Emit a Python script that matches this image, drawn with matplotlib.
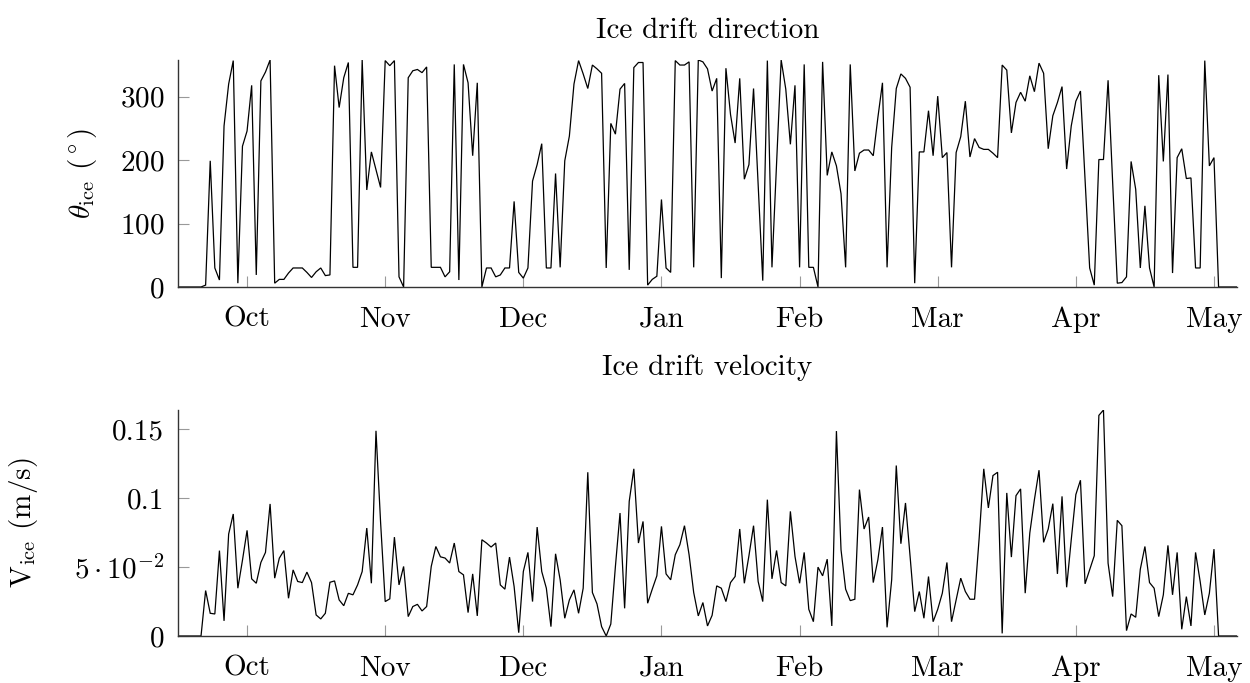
import numpy as np
import matplotlib
matplotlib.use("Agg")
import matplotlib.pyplot as plt

plt.rcParams["font.family"] = "cmr10"
plt.rcParams["mathtext.fontset"] = "cm"
plt.rcParams["axes.unicode_minus"] = False
plt.rcParams["axes.formatter.use_mathtext"] = True

# daily ice drift direction (deg)
theta_ice = [
    0, 0, 0, 0, 0, 0,
    3, 199, 30, 11, 254, 320, 357, 6, 222, 246,
    318, 19, 325, 339, 358, 6, 12, 12, 22, 30,
    30, 30, 23, 15, 24, 30, 18, 19, 349, 283,
    330, 354, 31, 31, 358, 153, 213, 185, 157, 357,
    349, 357, 16, 0, 330, 341, 343, 338, 347, 31,
    31, 31, 16, 24, 351, 11, 351, 322, 207, 322,
    0, 30, 30, 16, 19, 30, 30, 135, 23, 14,
    30, 167, 193, 226, 30, 30, 179, 31, 199, 238,
    320, 357, 336, 313, 350, 344, 337, 30, 258, 241,
    312, 321, 27, 346, 354, 354, 3, 12, 17, 138,
    30, 23, 357, 350, 350, 355, 31, 358, 355, 344,
    309, 329, 14, 345, 272, 227, 329, 170, 193, 313,
    161, 10, 357, 31, 195, 358, 312, 225, 318, 31,
    351, 31, 31, 0, 355, 176, 213, 191, 147, 31,
    351, 183, 211, 216, 216, 207, 267, 322, 31, 220,
    313, 336, 329, 315, 6, 213, 213, 278, 207, 301,
    204, 212, 31, 212, 237, 293, 205, 234, 220, 217,
    217, 211, 204, 350, 342, 243, 291, 307, 293, 333,
    308, 353, 337, 218, 270, 291, 316, 186, 254, 293,
    309, 169, 30, 3, 201, 201, 326, 164, 6, 7,
    16, 198, 154, 30, 128, 30, 0, 334, 198, 335,
    22, 204, 218, 171, 172, 30, 30, 357, 191, 204,
    0, 0, 0, 0, 0,
]

# daily ice drift speed (m/s)
v_ice = [
    0, 0, 0, 0, 0, 0,
    0.033, 0.0165, 0.016, 0.062, 0.011, 0.074, 0.0886, 0.0347, 0.055, 0.0767,
    0.0415, 0.0383, 0.0534, 0.0607, 0.0959, 0.042, 0.0565, 0.062, 0.0274, 0.048,
    0.0396, 0.0388, 0.0464, 0.0388, 0.0153, 0.0124, 0.0165, 0.039, 0.040, 0.0262,
    0.022, 0.031, 0.0299, 0.0371, 0.0468, 0.0784, 0.0383, 0.149, 0.0825, 0.025,
    0.027, 0.0718, 0.0371, 0.0505, 0.0141, 0.0214, 0.023, 0.0182, 0.0214, 0.0505,
    0.065, 0.0575, 0.0566, 0.053, 0.0675, 0.0468, 0.0444, 0.017, 0.0451, 0.0146,
    0.0699, 0.0675, 0.0646, 0.0675, 0.0371, 0.034, 0.0573, 0.0359, 0.0024, 0.0468,
    0.0607, 0.025, 0.0791, 0.0468, 0.0347, 0.0068, 0.0597, 0.0408, 0.0129, 0.0262,
    0.0335, 0.0165, 0.0347, 0.1189, 0.0316, 0.0233, 0.0068, 0.0, 0.0087, 0.0505,
    0.0893, 0.0201, 0.0978, 0.1214, 0.0675, 0.0832, 0.0238, 0.034, 0.0437, 0.0796,
    0.0451, 0.0408, 0.059, 0.0663, 0.0801, 0.059, 0.0316, 0.0146, 0.0243, 0.0073,
    0.015, 0.0364, 0.0347, 0.025, 0.0388, 0.0432, 0.0777, 0.0383, 0.0583, 0.0801,
    0.0396, 0.025, 0.099, 0.0415, 0.0621, 0.0388, 0.0364, 0.0905, 0.0578, 0.0383,
    0.0607, 0.0194, 0.0104, 0.05, 0.0437, 0.0558, 0.0073, 0.1488, 0.0626, 0.034,
    0.0257, 0.0267, 0.1063, 0.0777, 0.0864, 0.0388, 0.0553, 0.0791, 0.0063, 0.0408,
    0.1238, 0.067, 0.0966, 0.0578, 0.0177, 0.0323, 0.0129, 0.0432, 0.0104, 0.0194,
    0.0311, 0.0534, 0.0104, 0.0262, 0.042, 0.0323, 0.0267, 0.0267, 0.071, 0.1214,
    0.093, 0.1165, 0.1189, 0.0019, 0.1039, 0.0573, 0.1019, 0.1068, 0.0311, 0.0748,
    0.099, 0.1204, 0.068, 0.0777, 0.0961, 0.0451, 0.1014, 0.0354, 0.0699, 0.1027,
    0.1131, 0.0379, 0.0481, 0.0583, 0.1602, 0.1641, 0.0529, 0.0286, 0.084, 0.0801,
    0.0039, 0.016, 0.0136, 0.0485, 0.065, 0.0388, 0.0347, 0.0141, 0.0299, 0.0658,
    0.0299, 0.0607, 0.0049, 0.0286, 0.0073, 0.0607, 0.0396, 0.0153, 0.0311, 0.0631,
    0, 0, 0, 0, 0,
]

month_labels = ["Oct", "Nov", "Dec", "Jan", "Feb", "Mar", "Apr", "May"]
month_ticks = [15, 45, 75, 105, 135, 165, 195, 225]

theta_ticks = [0, 100, 200, 300]
v_ticks = [0, 0.05, 0.1, 0.15]
v_tick_labels = ["0", r"$5\cdot10^{-2}$", "0.1", "0.15"]

days = np.arange(len(theta_ice))
fs = 21

fig = plt.figure(figsize=(12.5, 6.83), dpi=100)
ax1 = fig.add_axes([0.1424, 0.5798, 0.8472, 0.3324])
ax2 = fig.add_axes([0.1424, 0.0688, 0.8472, 0.3309])


def style(ax):
    for s in ["top", "right"]:
        ax.spines[s].set_visible(False)
    for s in ["left", "bottom"]:
        ax.spines[s].set_color("0.2")
        ax.spines[s].set_linewidth(1.0)
    ax.tick_params(direction="in", length=8, width=0.8, color="0.6",
                   labelsize=fs, pad=10)
    ax.tick_params(axis="x", pad=14)
    ax.set_xlim(0, len(days) - 1)
    ax.set_xticks(month_ticks)
    ax.set_xticklabels(month_labels)


ax1.plot(days, theta_ice, color="black", lw=0.9, solid_joinstyle="miter")
style(ax1)
ax1.set_ylim(0, max(theta_ice))
ax1.set_yticks(theta_ticks)
ax1.set_ylabel(r"$\theta_{\mathrm{ice}}$ $(^\circ)$", fontsize=fs)
ax1.yaxis.set_label_coords(-0.075, 0.5)
ax1.set_title("Ice drift direction", fontsize=fs, pad=16)

ax2.plot(days, v_ice, color="black", lw=0.9, solid_joinstyle="miter")
style(ax2)
ax2.set_ylim(0, max(v_ice))
ax2.set_yticks(v_ticks)
ax2.set_yticklabels(v_tick_labels)
ax2.set_ylabel(r"V$_{\mathrm{ice}}$ (m/s)", fontsize=fs)
ax2.yaxis.set_label_coords(-0.13, 0.5)
ax2.set_title("Ice drift velocity", fontsize=fs, pad=25)

fig.savefig("out.png", dpi=100)
